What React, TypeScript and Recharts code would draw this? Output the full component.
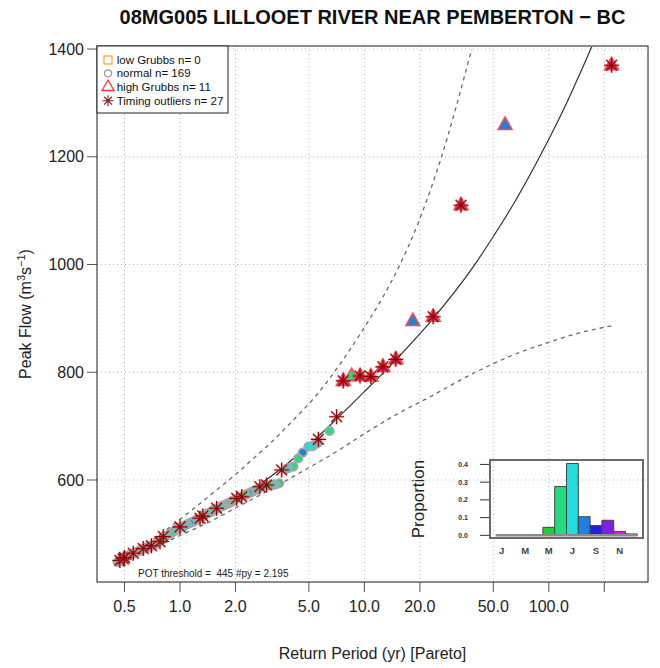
import React from 'react'
import {
  ComposedChart,
  Line,
  Scatter,
  XAxis,
  YAxis,
  CartesianGrid,
  BarChart,
  Bar,
  Cell,
  ReferenceLine,
} from 'recharts'

const FONT = '"Liberation Sans", Arial, Helvetica, sans-serif'

// axes
const xTicks = [0.5, 1, 2, 5, 10, 20, 50, 100, 200]
const xTickLabels = ['0.5', '1.0', '2.0', '5.0', '10.0', '20.0', '50.0', '100.0', '']
const yTicks = [600, 800, 1000, 1200, 1400]

// fitted Pareto curve and confidence limits
const fitT = [0.47, 0.6, 0.8, 1.0, 1.5, 2, 3, 3.5, 5, 7, 10, 15, 23.5, 38.8, 50, 64, 89.5, 125, 171]
const fitQ = [450, 469, 492, 511, 543, 568, 603, 620, 665, 712, 764, 825, 899, 995, 1052, 1111, 1201, 1300, 1404]

const upperT = [0.47, 0.6, 0.8, 1.0, 1.28, 1.6, 2, 2.5, 3, 3.95, 4.47, 5.39, 7.37, 9.45, 12.66, 15.6, 19.2, 25.7, 38.2]
const upperQ = [452, 473, 502, 527, 556, 583, 610, 640, 664, 705, 724, 754, 815, 870, 941, 1000, 1070, 1191, 1400]

const lowerT = [0.47, 0.7, 1.0, 1.5, 2, 3, 4.4, 7, 10, 15, 22, 40, 65, 105, 150, 219]
const lowerQ = [447, 472, 497, 525, 548, 580, 612, 652, 686, 722, 752, 800, 833, 858, 874, 886]

// normal events: return period, peak, month of occurrence
const normalT = [
  6.48, 5.55, 5.25, 4.97, 4.63, 4.38, 4.12, 3.87, 3.73, 3.45,
  3.31, 3.18, 3.06, 2.84, 2.66, 2.57, 2.49, 2.42, 2.35, 2.28,
  2.22, 2.1, 2.0, 1.95, 1.91, 1.86, 1.82, 1.78, 1.74, 1.71,
  1.67, 1.64, 1.57, 1.54, 1.51, 1.49, 1.46, 1.41, 1.36, 1.32,
  1.24, 1.2, 1.17, 1.13, 1.1, 1.07, 1.05, 0.99, 0.97, 0.94,
  0.91, 0.88, 0.85, 0.83, 0.8, 0.77, 0.75, 0.73, 0.72, 0.7,
  0.68, 0.66, 0.63, 0.61, 0.59, 0.57, 0.55, 0.54, 0.53, 0.52,
  0.51, 0.5, 0.49, 0.48, 0.47, 0.465, 0.46,
]
const normalQ = [
  691, 668, 663, 662, 651, 640, 625, 622, 620, 594,
  592, 591, 590, 589, 584, 581, 579, 577, 575, 573,
  571, 568, 564, 562, 560, 558, 556, 555, 553, 552,
  551, 549, 546, 545, 543, 542, 540, 538, 535, 532,
  527, 524, 522, 520, 518, 516, 514, 511, 509, 506,
  503, 500, 497, 496, 490, 486, 483, 480, 479, 478,
  476, 475, 472, 470, 467, 465, 463, 461, 460, 459,
  457, 456, 455, 454, 451, 449, 448,
]
const normalMonth = [
  6, 7, 7, 7, 8, 6, 6, 7, 7, 5,
  7, 7, 6, 7, 7, 6, 7, 7, 8, 7,
  6, 7, 7, 6, 7, 6, 7, 5, 7, 6,
  7, 7, 6, 7, 8, 7, 6, 7, 6, 7,
  7, 6, 7, 8, 7, 6, 7, 7, 6, 7,
  7, 6, 7, 7, 6, 7, 7, 7, 6, 6,
  7, 9, 7, 7, 6, 7, 7, 7, 6, 6,
  7, 7, 6, 7, 6, 7, 7,
]

// high Grubbs outliers
const grubbsT = [7.68, 8.52, 9.47, 10.84, 12.6, 14.8, 18.3, 23.6, 33.4, 57.9, 219]
const grubbsQ = [784, 793, 793, 792, 810, 824, 895, 903, 1110, 1259, 1370]
const grubbsFill = ['#d01c6c', '#22dd80', '#d01c6c', '#d01c6c', '#d01c6c', '#d01c6c', '#2080e0', '#d01c6c', '#d01c6c', '#2080e0', '#d01c6c']

// timing outliers
const timingT = [
  0.472, 0.493, 0.5, 0.558, 0.632, 0.7, 0.779, 0.812, 1.0, 1.284,
  1.33, 1.58, 2.03, 2.16, 2.71, 2.95, 3.56, 5.63, 7.07, 7.68,
  9.47, 10.84, 12.6, 14.8, 23.6, 33.4, 219,
]
const timingQ = [
  450.6, 453.6, 456, 464, 473, 478, 485.6, 495, 513, 529,
  533, 547.5, 566, 569, 587.6, 590.7, 618.5, 675.5, 717.5, 784,
  793, 792, 810, 824, 903, 1110, 1370,
]

// seasonal distribution (inset)
const months = [1, 2, 3, 4, 5, 6, 7, 8, 9, 10, 11, 12]
const proportion = [0, 0, 0, 0, 0.045, 0.275, 0.405, 0.105, 0.055, 0.085, 0.022, 0.008]
const monthLetters = ['J', 'F', 'M', 'A', 'M', 'J', 'J', 'A', 'S', 'O', 'N', 'D']
const monthColors = ['#ff2020', '#ff8020', '#e0e020', '#80e020', '#22cc33', '#22dd80', '#22dddd', '#2080e0', '#2020dd', '#8020e0', '#dd20dd', '#d0106a']

const pairs = (t: number[], q: number[]) => t.map((v, i) => ({ t: v, q: q[i] }))

const fitData = pairs(fitT, fitQ)
const upperData = pairs(upperT, upperQ)
const lowerData = pairs(lowerT, lowerQ)
const normalData = normalT.map((v, i) => ({ t: v, q: normalQ[i], m: normalMonth[i] }))
const grubbsData = grubbsT.map((v, i) => ({ t: v, q: grubbsQ[i], fill: grubbsFill[i] }))
const timingData = pairs(timingT, timingQ)
const seasonData = months.map((m, i) => ({ m, p: proportion[i] }))

const NormalDot = (props: any) => {
  const { cx, cy, payload } = props
  if (cx == null || cy == null) return null
  return <circle cx={cx} cy={cy} r={4.2} fill={monthColors[payload.m - 1]} stroke="#a6a6a6" strokeWidth={1.8} />
}

const Tri = (props: any) => {
  const { cx, cy, payload } = props
  if (cx == null || cy == null) return null
  const pts = `${cx},${cy - 8} ${cx - 7},${cy + 4.5} ${cx + 7},${cy + 4.5}`
  return <polygon points={pts} fill={payload.fill} stroke="#ff4a4a" strokeWidth={1.5} />
}

const asteriskPath = (cx: number, cy: number, s: number) => {
  const d = s * 0.72
  return `M${cx - s},${cy}L${cx + s},${cy}M${cx},${cy - s}L${cx},${cy + s}` +
    `M${cx - d},${cy - d}L${cx + d},${cy + d}M${cx - d},${cy + d}L${cx + d},${cy - d}`
}

const Star = (props: any) => {
  const { cx, cy } = props
  if (cx == null || cy == null) return null
  const p = asteriskPath(cx, cy, 7.5)
  return (
    <g>
      <path d={p} stroke="rgba(220,80,80,0.4)" strokeWidth={2.4} fill="none" />
      <path d={p} stroke="#8b0000" strokeWidth={1.1} fill="none" />
    </g>
  )
}

const tickStyle = { fontSize: 16, fill: '#222', fontFamily: FONT }

export default function App() {
  return (
    <div style={{ position: 'relative', width: 652, height: 660, fontFamily: FONT }}>
      <ComposedChart width={652} height={660} margin={{ top: 38, right: 12, left: 0, bottom: 0 }}>
        <CartesianGrid stroke="#b4b4b4" strokeDasharray="1 3" />
        <XAxis
          type="number"
          dataKey="t"
          scale="log"
          domain={[0.3548, 345.1]}
          allowDataOverflow
          ticks={xTicks}
          interval={0}
          tickFormatter={(v: number) => xTickLabels[xTicks.indexOf(v)] ?? ''}
          height={86}
          tickSize={10}
          tickMargin={9}
          axisLine={false}
          tickLine={{ stroke: '#555' }}
          tick={tickStyle}
        />
        <YAxis
          type="number"
          dataKey="q"
          domain={[410.7, 1405.6]}
          allowDataOverflow
          ticks={yTicks}
          interval={0}
          width={89}
          tickSize={10}
          tickMargin={3}
          axisLine={false}
          tickLine={{ stroke: '#555' }}
          tick={tickStyle}
        />
        <Line data={lowerData} dataKey="q" type="monotone" stroke="#6a6a6a" strokeWidth={1.3} strokeDasharray="4 4" dot={false} isAnimationActive={false} />
        <Line data={upperData} dataKey="q" type="monotone" stroke="#6a6a6a" strokeWidth={1.3} strokeDasharray="4 4" dot={false} isAnimationActive={false} />
        <Line data={fitData} dataKey="q" type="monotone" stroke="#333" strokeWidth={1.2} dot={false} isAnimationActive={false} />
        <Scatter data={normalData} dataKey="q" shape={NormalDot} isAnimationActive={false} />
        <Scatter data={grubbsData} dataKey="q" shape={Tri} isAnimationActive={false} />
        <Scatter data={timingData} dataKey="q" shape={Star} isAnimationActive={false} />
      </ComposedChart>

      <div style={{ position: 'absolute', left: 400, top: 440 }}>
        <BarChart width={250} height={130} data={seasonData} margin={{ top: 12, right: 15, left: 0, bottom: 0 }} barCategoryGap={0} barGap={0}>
          <XAxis
            type="number"
            dataKey="m"
            domain={[0.02, 12.98]}
            allowDataOverflow
            ticks={[1, 3, 5, 7, 9, 11]}
            interval={0}
            tickFormatter={(m: number) => monthLetters[m - 1]}
            tickLine={false}
            axisLine={false}
            height={40}
            tickSize={4}
            tickMargin={5}
            tick={{ fontSize: 9.5, fontWeight: 'bold', fill: '#444', fontFamily: FONT }}
          />
          <YAxis
            type="number"
            domain={[-0.015, 0.425]}
            allowDataOverflow
            ticks={[0, 0.1, 0.2, 0.3, 0.4]}
            interval={0}
            tickFormatter={(v: number) => v.toFixed(1)}
            width={82}
            tickSize={10}
            tickMargin={12}
            axisLine={false}
            tickLine={{ stroke: '#333' }}
            tick={{ fontSize: 7, fontWeight: 'bold', fill: '#333', fontFamily: FONT }}
          />
          <ReferenceLine segment={[{ x: 0.5, y: 0 }, { x: 12.5, y: 0 }]} stroke="#8a8a8a" strokeWidth={2.5} />
          <Bar dataKey="p" barSize={11.8} stroke="#444" strokeWidth={1} isAnimationActive={false}>
            {seasonData.map((d) => (
              <Cell key={`m-${d.m}`} fill={monthColors[d.m - 1]} />
            ))}
          </Bar>
        </BarChart>
      </div>

      <svg width={660} height={668} style={{ position: 'absolute', left: -8, top: -8, pointerEvents: 'none', overflow: 'visible' }}>
        <g transform="translate(8,8)">
          <rect x={89} y={38} width={551} height={536} fill="none" stroke="#222" strokeWidth={1} />
          <text x={364.5} y={16} textAnchor="middle" fontSize={20} fontWeight="bold" fill="#111" fontFamily={FONT}>
            08MG005 LILLOOET RIVER NEAR PEMBERTON − BC
          </text>
          <text x={364.5} y={651} textAnchor="middle" fontSize={16} fill="#222" fontFamily={FONT}>
            Return Period (yr) [Pareto]
          </text>
          <text x={17} y={306} transform="rotate(-90 17 306)" textAnchor="middle" dy="0.35em" fontSize={16} fill="#222" fontFamily={FONT}>
            Peak Flow (m<tspan dy={-6} fontSize={11}>3</tspan><tspan dy={6}>s</tspan><tspan dy={-6} fontSize={11}>−1</tspan><tspan dy={6}>)</tspan>
          </text>
          <text x={130} y={569} fontSize={10} fill="#222" fontFamily={FONT} style={{ whiteSpace: 'pre' }}>
            {'POT threshold =  445 #py = 2.195'}
          </text>

          <rect x={89} y={38} width={131} height={67} fill="#fff" stroke="#222" strokeWidth={1} />
          <rect x={96} y={48} width={8} height={8} fill="none" stroke="#f5a623" strokeWidth={1.2} />
          <circle cx={100} cy={65.3} r={3.5} fill="none" stroke="#999" strokeWidth={1.2} />
          <polygon points="100,72 94,82.5 106,82.5" fill="none" stroke="#ff3333" strokeWidth={1.3} />
          <path d={asteriskPath(100, 92.7, 5.5)} stroke="#8b1a1a" strokeWidth={1.1} fill="none" />
          {['low Grubbs n= 0', 'normal n= 169', 'high Grubbs n= 11', 'Timing outliers n= 27'].map((s, i) => (
            <text key={s} x={108.7} y={[52, 65.3, 78.7, 92.7][i]} dy="0.35em" fontSize={11.5} fill="#111" fontFamily={FONT}>
              {s}
            </text>
          ))}

          <rect x={482} y={452} width={153} height={78} fill="none" stroke="#6a6a6a" strokeWidth={2} />
          <text x={410} y={491} transform="rotate(-90 410 491)" textAnchor="middle" dy="0.35em" fontSize={17} fill="#222" fontFamily={FONT}>
            Proportion
          </text>
        </g>
      </svg>
    </div>
  )
}
